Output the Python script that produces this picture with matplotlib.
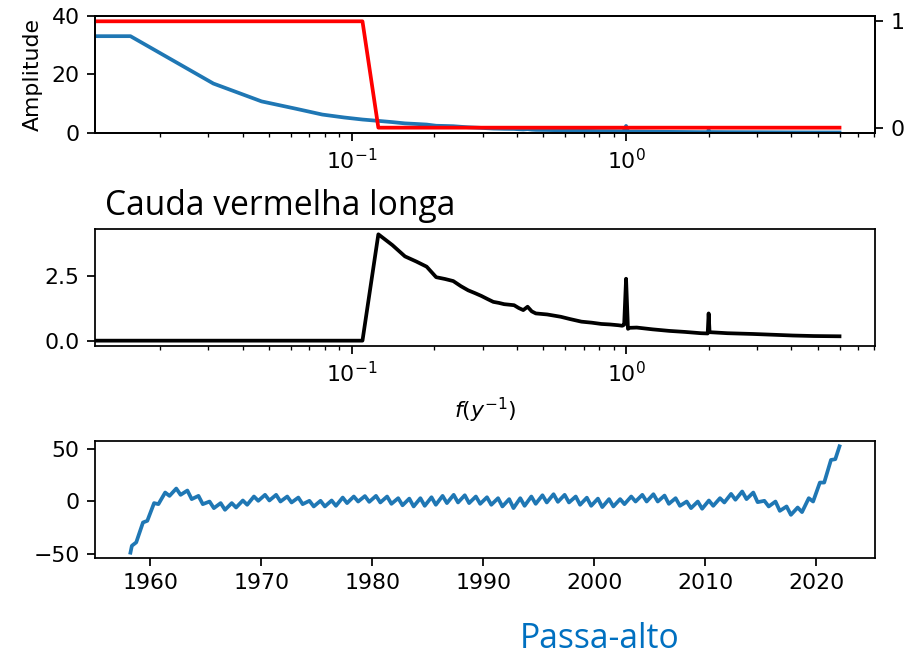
import matplotlib
matplotlib.use('Agg')
import matplotlib.pyplot as plt

plt.rcParams['font.family'] = 'DejaVu Sans'
plt.rcParams['mathtext.fontset'] = 'dejavusans'

# ---------- dados ----------
# espectro de amplitude, parte de baixa frequencia (k = 0..7, f = k/64 ciclos/ano)
FREQ_LOW = [0.0, 0.0156, 0.0313, 0.0469, 0.0625, 0.0781, 0.0938, 0.1094]
AMP_LOW = [33.1, 33.1, 16.9, 10.8, 8.3, 6.3, 5.3, 4.6]

# espectro de amplitude, parte de alta frequencia (passa pelo filtro)
FREQ_HIGH = [0.125, 0.1406, 0.1563, 0.1719, 0.1875, 0.2031, 0.2188, 0.2344,
             0.25, 0.2656, 0.2813, 0.2969, 0.3125, 0.3281, 0.3438, 0.3594,
             0.375, 0.3906, 0.4063, 0.4219, 0.4375, 0.4531, 0.4688, 0.5156,
             0.578, 0.625, 0.6875, 0.75, 0.8125, 0.875, 0.9375, 0.969, 0.984,
             1.0, 1.016, 1.031, 1.094, 1.25, 1.4375, 1.64, 1.875, 1.984, 2.0,
             2.016, 2.34, 2.906, 3.44, 4.06, 4.84, 6.0]
AMP_HIGH = [4.14, 3.72, 3.28, 3.08, 2.88, 2.47, 2.40, 2.32,
            2.12, 1.96, 1.85, 1.74, 1.62, 1.51, 1.47, 1.42,
            1.40, 1.38, 1.27, 1.19, 1.32, 1.14, 1.06, 1.02,
            0.93, 0.84, 0.74, 0.70, 0.65, 0.63, 0.60, 0.58, 0.62,
            2.41, 0.46, 0.50, 0.51, 0.44, 0.38, 0.34, 0.29, 0.28, 1.06,
            0.33, 0.29, 0.26, 0.23, 0.20, 0.18, 0.17]

# mascara do filtro (curva vermelha)
FILTER_F = [0.0, 0.1094, 0.125, 6.0]
FILTER_V = [1, 1, 0, 0]

# serie passa-alto: primeiro ponto, maximos (~maio) e minimos (~set.) por ano, ultimo ponto
HP_FIRST = (1958.2, -49.0)
HP_YEARS = list(range(1958, 2022))
HP_PEAK = [-42.4, -20.2, -1.7, 8.4, 12.2, 10.3, 5.2, -0.2, -1.7, -1.7,
           0.8, 4.6, 6.2, 6.2, 4.6, 3.6, 0.5, 0.5, 0.8, 3.6,
           4.6, 5.0, 5.2, 4.6, 3.0, 2.6, 3.0, 3.9, 5.2, 6.2,
           5.8, 4.6, 3.9, 3.0, 2.1, 3.0, 4.6, 5.8, 6.8, 6.2,
           4.6, 3.5, 2.6, 2.1, 2.1, 4.6, 6.2, 6.8, 5.5, 3.0,
           -0.2, -0.2, 0.8, 3.0, 7.1, 9.4, 8.4, 0.5, -0.2, -4.9,
           -5.9, 3.0, 17.9, 39.5]
HP_TROUGH = [-39.2, -18.6, -2.7, 5.2, 6.2, 2.1, -2.7, -6.5, -8.1, -5.9,
             -3.3, 0.5, 0.8, -0.2, -1.1, -2.7, -4.9, -4.9, -4.3, -1.7,
             -0.2, -0.5, -1.1, -2.4, -3.8, -4.9, -4.3, -3.3, -1.7, -1.1,
             -1.7, -2.4, -3.3, -4.9, -6.5, -4.3, -2.4, -1.1, -0.5, -1.1,
             -3.3, -4.3, -5.5, -4.9, -2.7, -0.2, -0.2, -0.2, -2.4, -4.3,
             -6.5, -7.1, -4.3, -1.1, 1.5, 2.1, -0.8, -4.9, -9.1, -12.9,
             -10.3, -0.2, 17.9, 40.2]
HP_LAST = (2022.1, 52.5)

# ---------- montar as series ----------
freq_all = FREQ_LOW + FREQ_HIGH
amp_all = AMP_LOW + AMP_HIGH
amp_filtered = [0.0] * len(FREQ_LOW) + AMP_HIGH

t_hp = [HP_FIRST[0]]
v_hp = [HP_FIRST[1]]
for yr, pk, tr in zip(HP_YEARS, HP_PEAK, HP_TROUGH):
    t_hp += [yr + 0.33, yr + 0.72]
    v_hp += [pk, tr]
t_hp.append(HP_LAST[0])
v_hp.append(HP_LAST[1])

# ---------- figura ----------
DPI = 158
fig = plt.figure(figsize=(916 / DPI, 658 / DPI), dpi=DPI)
LEFT, WIDTH, HEIGHT = 0.1037, 0.8515, 0.1778

# 1. espectro original + filtro
ax1 = fig.add_axes([LEFT, 0.7979, WIDTH, HEIGHT])
ax1.plot(freq_all, amp_all, color='C0', lw=1.7)
ax1.set_xscale('log')
ax1.set_ylim(0, 40)
ax1.set_ylabel('Amplitude')
ax1b = ax1.twinx()
ax1b.plot(FILTER_F, FILTER_V, color='r', lw=1.7)
ax1b.set_yticks([0, 1])

# 2. espectro filtrado
ax2 = fig.add_axes([LEFT, 0.4742, WIDTH, HEIGHT])
ax2.plot(freq_all, amp_filtered, color='k', lw=1.7)
ax2.set_xscale('log')
ax2.set_xlabel(r'$f(y^{-1})$')

# 3. serie temporal passa-alto
ax3 = fig.add_axes([LEFT, 0.152, WIDTH, HEIGHT])
ax3.plot(t_hp, v_hp, color='C0', lw=1.7)

# textos sobrepostos
fig.text(105 / 916, 1 - 215 / 658, 'Cauda vermelha longa', fontsize=15.3,
         family='Open Sans', va='baseline', color='black')
fig.text(520 / 916, 1 - 648 / 658, 'Passa-alto', fontsize=15.3,
         family='Open Sans', va='baseline', color='#0070C0')

fig.savefig('out.png', dpi=DPI)
